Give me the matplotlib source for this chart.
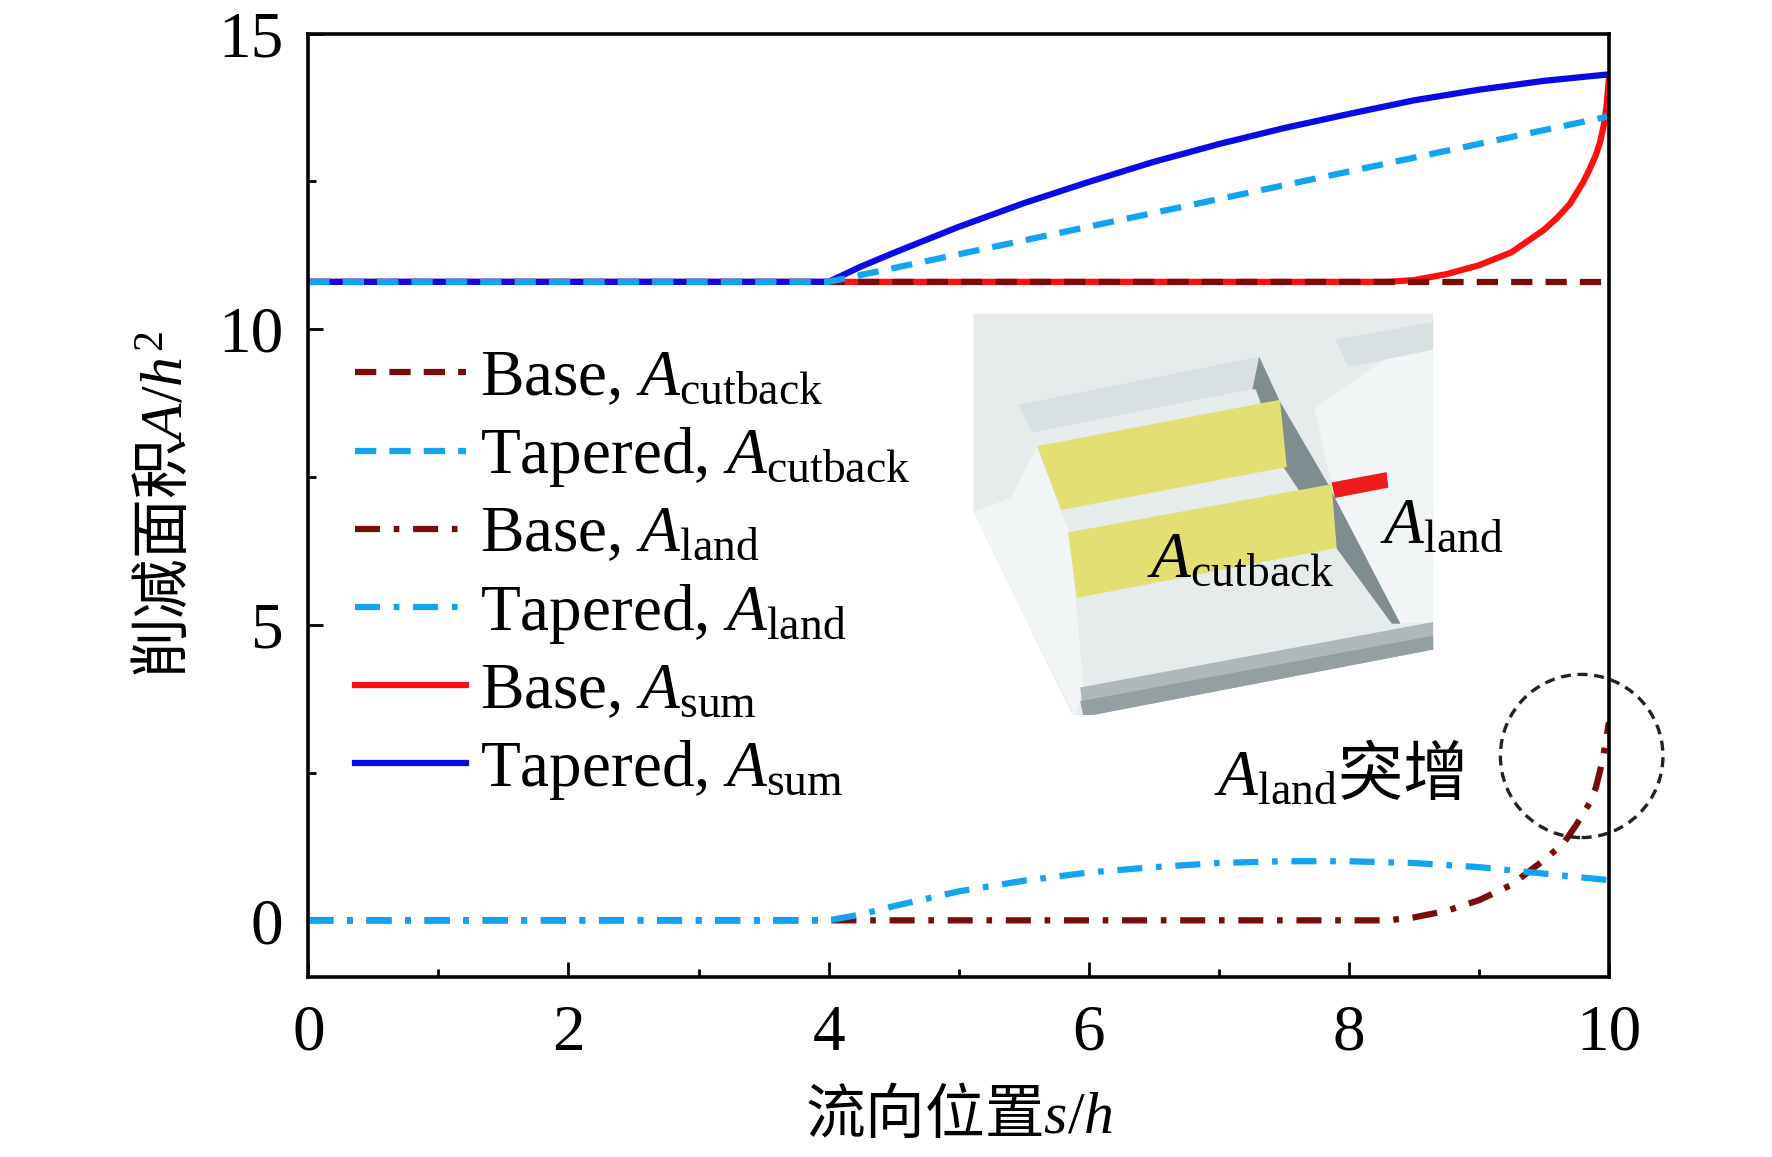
import numpy as np
import matplotlib
matplotlib.use("Agg")
import matplotlib.pyplot as plt
from matplotlib.patches import Ellipse, Polygon

plt.rcParams["font.family"] = ["Liberation Serif", "Noto Sans CJK SC"]
plt.rcParams["mathtext.fontset"] = "custom"
plt.rcParams["mathtext.rm"] = "Liberation Serif"
plt.rcParams["mathtext.it"] = "Liberation Serif:italic"
plt.rcParams["axes.linewidth"] = 2.6

# values
x_base_cut = [0, 10]
y_base_cut = [10.8, 10.8]

x_tap_cut = [0, 4, 10]
y_tap_cut = [10.8, 10.8, 13.6]

x_base_land = [0, 8.0, 8.3, 8.5, 8.75, 9.0, 9.25, 9.5, 9.65, 9.75, 9.85, 9.9, 9.95, 10.0]
y_base_land = [0, 0, 0, 0.05, 0.16, 0.34, 0.6, 1.02, 1.3, 1.62, 1.98, 2.25, 2.7, 3.35]

x_tap_land = [0, 4, 4.25, 4.5, 5, 5.5, 6, 6.5, 7, 7.5, 8, 8.5, 9, 9.5, 10]
y_tap_land = [0, 0, 0.1, 0.24, 0.49, 0.67, 0.81, 0.9, 0.97, 1.0, 1.0, 0.97, 0.9, 0.79, 0.68]

x_base_sum = [0, 8.3, 8.5, 8.75, 9.0, 9.25, 9.5, 9.6, 9.7, 9.75, 9.8, 9.85, 9.9, 9.93, 9.96, 9.98, 10.0]
y_base_sum = [10.8, 10.8, 10.83, 10.93, 11.08, 11.3, 11.68, 11.88, 12.12, 12.3, 12.48, 12.7, 12.95, 13.15, 13.45, 13.75, 14.25]

x_tap_sum = [0, 4, 4.25, 4.5, 5, 5.5, 6, 6.5, 7, 7.5, 8, 8.5, 9, 9.5, 10]
y_tap_sum = [10.8, 10.8, 11.06, 11.29, 11.73, 12.13, 12.49, 12.83, 13.13, 13.4, 13.64, 13.87, 14.05, 14.2, 14.31]

dark_red = "#7b0a0a"
light_blue = "#12a4f2"
red = "#ff1010"
blue = "#0a0ae6"

dash = (0, (3.4, 2.1))
dashdot = (0, (4.0, 2.2, 0.9, 2.2))
lw = 4.5

fig = plt.figure(figsize=(17.72, 11.57), dpi=100)
ax = fig.add_axes([0.174, 0.156, 0.734, 0.815])

h5, = ax.plot(x_base_sum, y_base_sum, color=red, lw=lw, label=r"Base, $A_\mathrm{sum}$")
h6, = ax.plot(x_tap_sum, y_tap_sum, color=blue, lw=lw, label=r"Tapered, $A_\mathrm{sum}$")
h1, = ax.plot(x_base_cut, y_base_cut, color=dark_red, lw=lw, ls=dash, label=r"Base, $A_\mathrm{cutback}$")
h2, = ax.plot(x_tap_cut, y_tap_cut, color=light_blue, lw=lw, ls=dash, label=r"Tapered, $A_\mathrm{cutback}$")
h3, = ax.plot(x_base_land, y_base_land, color=dark_red, lw=lw, ls=dashdot, label=r"Base, $A_\mathrm{land}$")
h4, = ax.plot(x_tap_land, y_tap_land, color=light_blue, lw=lw, ls=dashdot, label=r"Tapered, $A_\mathrm{land}$")

ax.set_xlim(0, 10)
ax.set_ylim(-0.95, 15)
ax.set_xticks([0, 2, 4, 6, 8, 10])
ax.set_xticks([1, 3, 5, 7, 9], minor=True)
ax.set_yticks([0, 5, 10, 15])
ax.set_yticks([2.5, 7.5, 12.5], minor=True)
ax.tick_params(which="both", direction="in", labelsize=47, width=2)
ax.tick_params(which="major", length=11)
ax.tick_params(which="minor", length=6)
ax.tick_params(axis="x", pad=20)
ax.tick_params(axis="y", pad=18)

ax.set_xlabel(r"流向位置$s/h$", fontsize=43, family="Noto Sans CJK SC", labelpad=16)
ax.set_ylabel(r"削减面积$A/h^2$", fontsize=43, family="Noto Sans CJK SC", labelpad=16)

leg = ax.legend(handles=[h1, h2, h3, h4, h5, h6], loc="upper left",
                bbox_to_anchor=(0.036, 0.665), frameon=False, fontsize=47,
                handlelength=1.7, handletextpad=0.22, labelspacing=0.25,
                borderpad=0, borderaxespad=0)

ax.add_patch(Ellipse((9.79, 2.78), 1.25, 2.76, fill=False, ec="#222222",
                     lw=2.4, ls=(0, (3, 2)), clip_on=False, zorder=5))
ax.text(6.96, 2.45, r"$A_\mathrm{land}$突增", fontsize=47,
        family="Noto Sans CJK SC", va="center", ha="left")

# inset sketch of the channel
ins = fig.add_axes([0.5474, 0.382, 0.3047, 0.3544])
ins.set_xlim(0, 1568)
ins.set_ylim(1190, 0)
ins.axis("off")

shapes = [
    ([(10, 25), (1345, 25), (1345, 1000), (330, 1195), (300, 1195), (10, 600)], "#e6ebec"),
    ([(120, 560), (195, 410), (265, 600), (290, 660), (330, 1110), (305, 1195), (10, 600)], "#f1f5f6"),
    ([(320, 1110), (1345, 920), (1345, 1000), (330, 1195)], "#aeb8ba"),
    ([(320, 1150), (1345, 960), (1345, 1000), (330, 1195)], "#949fa2"),
    ([(140, 290), (840, 150), (840, 240), (180, 370)], "#d9e0e1"),
    ([(1060, 100), (1345, 50), (1345, 130), (1100, 180)], "#d9e0e1"),
    ([(1060, 560), (1250, 925), (1345, 920), (1345, 130), (1200, 160), (1000, 300)], "#f2f5f6"),
    ([(840, 150), (900, 280), (1040, 520), (1060, 560), (1250, 925), (1225, 925),
      (1060, 700), (950, 530), (910, 470), (830, 245), (820, 245)], "#7f8c90"),
    ([(195, 410), (900, 275), (920, 470), (265, 595)], "#e2e072"),
    ([(285, 660), (1050, 520), (1065, 705), (310, 850)], "#e2e072"),
    ([(1050, 515), (1210, 485), (1215, 530), (1060, 560)], "#ee1c1c"),
]
for pts, col in shapes:
    ins.add_patch(Polygon(pts, closed=True, fc=col, ec="none"))

ins.text(515, 790, r"$A_\mathrm{cutback}$", fontsize=47, va="baseline", ha="left")
ins.text(1190, 690, r"$A_\mathrm{land}$", fontsize=47, va="baseline", ha="left")

fig.savefig("out.png", dpi=100)
